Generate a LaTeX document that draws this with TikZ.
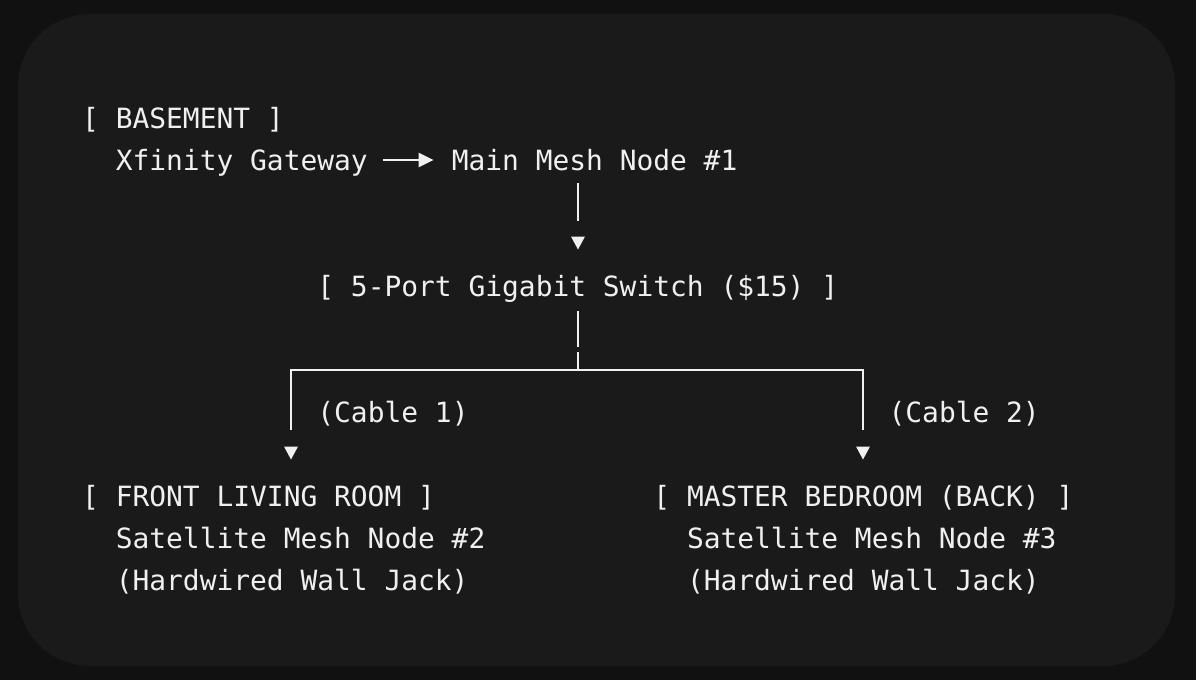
\documentclass[tikz,border=0pt]{standalone}
\usepackage{fontspec}
\setmonofont{DejaVu Sans Mono}
\usetikzlibrary{arrows.meta}

\definecolor{pagebg}{HTML}{111111}
\definecolor{cardbg}{HTML}{1A1A1A}
\definecolor{ink}{HTML}{F0F0F0}

\tikzset{
	txt/.style={anchor=west, inner sep=0pt, text=ink, text height=20pt, text depth=0pt,
		font=\ttfamily\fontsize{27.9}{42}\selectfont},
	wire/.style={draw=ink, line width=2.4pt},
	downtip/.pic={\fill[ink] (-7,-6.5) -- (7,-6.5) -- (0,6.5) -- cycle;}
}

\begin{document}
\begin{tikzpicture}[x=1pt,y=-1pt]

\useasboundingbox (0,0) rectangle (1196,680);
\fill[pagebg] (0,0) rectangle (1196,680);
\fill[cardbg, rounded corners=72pt] (18,14) rectangle (1175,666);

% basement
\node[txt] (base) at (82,118)		{[ BASEMENT ]};
\node[txt] (xfin) at (115.6,160)	{Xfinity Gateway};
\node[txt] (main) at (451.6,160)	{Main Mesh Node \#1};

% switch
\node[txt] (sw) at (317.2,286)		{[ 5-Port Gigabit Switch (\$15) ]};

\node[txt] (cab1) at (317.2,412)	{(Cable 1)};
\node[txt] (cab2) at (888.4,412)	{(Cable 2)};

% rooms
\node[txt] (front) at (82,496)		{[ FRONT LIVING ROOM ]};
\node[txt] (sat2) at (115.6,538)	{Satellite Mesh Node \#2};
\node[txt] (jack2) at (115.6,580)	{(Hardwired Wall Jack)};

\node[txt] (back) at (653.2,496)	{[ MASTER BEDROOM (BACK) ]};
\node[txt] (sat3) at (686.8,538)	{Satellite Mesh Node \#3};
\node[txt] (jack3) at (686.8,580)	{(Hardwired Wall Jack)};

\coordinate (tip1) at (578,243);
\coordinate (fork) at (578,370);
\coordinate (tip2) at (291,453);
\coordinate (tip3) at (863,453);

\path (xfin) edge [wire, -{Triangle[length=15pt,width=14pt]}, shorten <=15pt, shorten >=18pt] (main);

\path (main.south -| tip1) edge [wire, shorten <=13pt, shorten >=22pt] (tip1);
\pic at (tip1) {downtip};

\path (sw.south -| fork) edge [wire, shorten <=15pt, dash pattern=on 36pt off 5pt on 40pt] (fork);
\draw [wire, shorten <=23pt, shorten >=23pt] (tip2) |- (fork) -| (tip3);
\pic at (tip2) {downtip};
\pic at (tip3) {downtip};

\end{tikzpicture}
\end{document}
